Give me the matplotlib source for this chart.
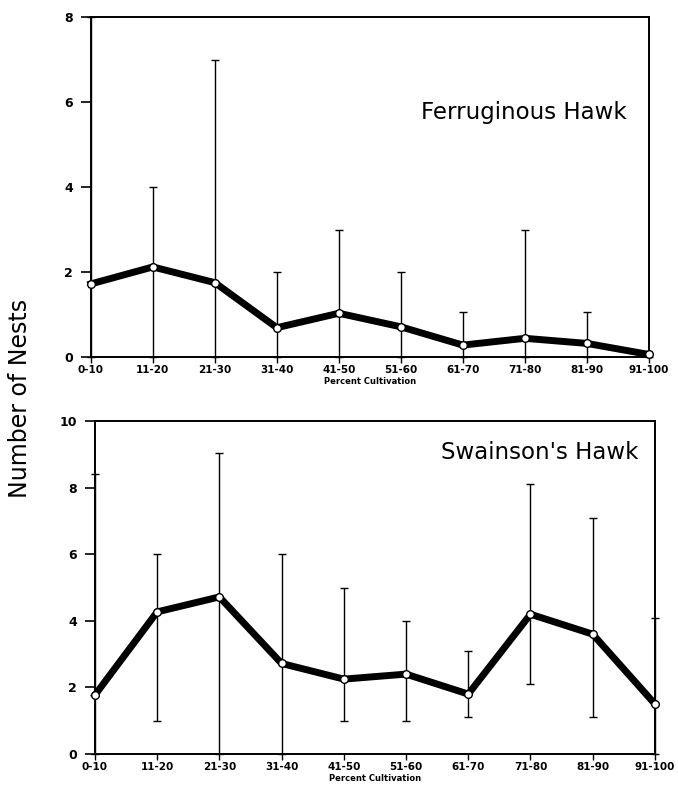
import numpy as np
import matplotlib
matplotlib.use("Agg")
import matplotlib.pyplot as plt

categories = ["0-10", "11-20", "21-30", "31-40", "41-50", "51-60",
              "61-70", "71-80", "81-90", "91-100"]

# Ferruginous Hawk: mean nests and range (low / high)
ferr_mean = [1.72, 2.12, 1.75, 0.69, 1.03, 0.71, 0.28, 0.44, 0.32, 0.06]
ferr_low = [0, 0, 0, 0, 0, 0, 0, 0, 0, 0]
ferr_high = [8.0, 4.0, 7.0, 2.0, 3.0, 2.0, 1.05, 3.0, 1.05, 0.06]

# Swainson's Hawk
swai_mean = [1.77, 4.27, 4.72, 2.72, 2.25, 2.4, 1.8, 4.2, 3.6, 1.5]
swai_low = [0, 1.0, 0, 0, 1.0, 1.0, 1.1, 2.1, 1.1, 0]
swai_high = [8.4, 6.0, 9.05, 6.0, 5.0, 4.0, 3.1, 8.1, 7.1, 4.1]

ferr_ticks = [0, 2, 4, 6, 8]
swai_ticks = [0, 2, 4, 6, 8, 10]

fig = plt.figure(figsize=(6.78, 7.96), dpi=100)
ax1 = fig.add_axes([0.134, 0.5515, 0.823, 0.427])
ax2 = fig.add_axes([0.140, 0.0528, 0.826, 0.418])

x = np.arange(len(categories))


def draw_panel(ax, mean, low, high, ticks, ymax, title, tx, ty):
    mean = np.array(mean)
    yerr = [mean - np.array(low), np.array(high) - mean]
    ax.errorbar(x, mean, yerr=yerr, fmt="none", ecolor="black",
                elinewidth=1.0, capsize=3, capthick=1.0, clip_on=False)
    ax.plot(x, mean, color="black", lw=5, zorder=3, clip_on=False)
    ax.plot(x, mean, "o", ms=5.5, mfc="white", mec="black", mew=1.0,
            zorder=4, clip_on=False)
    ax.set_xlim(0, len(categories) - 1)
    ax.set_ylim(0, ymax)
    ax.set_xticks(x)
    ax.set_xticklabels(categories, fontsize=7.5, fontweight="bold")
    ax.set_yticks(ticks)
    ax.set_yticklabels([str(t) for t in ticks], fontsize=9,
                       fontweight="bold")
    ax.tick_params(axis="y", direction="out", length=7, width=1.2,
                   pad=6, colors="black")
    ax.tick_params(axis="x", direction="out", length=4, width=1.0,
                   pad=2, colors="black")
    for s in ax.spines.values():
        s.set_linewidth(1.4)
    ax.set_xlabel("Percent Cultivation", fontsize=6, fontweight="bold",
                  labelpad=1)
    ax.text(tx, ty, title, transform=ax.transAxes, ha="right",
            va="center", fontsize=16.5)


draw_panel(ax1, ferr_mean, ferr_low, ferr_high, ferr_ticks, 8,
           "Ferruginous Hawk", 0.96, 0.72)
draw_panel(ax2, swai_mean, swai_low, swai_high, swai_ticks, 10,
           "Swainson's Hawk", 0.97, 0.905)

fig.text(0.03, 0.50, "Number of Nests", rotation=90, ha="center",
         va="center", fontsize=17)

fig.savefig("out.png", dpi=100, facecolor="white")
